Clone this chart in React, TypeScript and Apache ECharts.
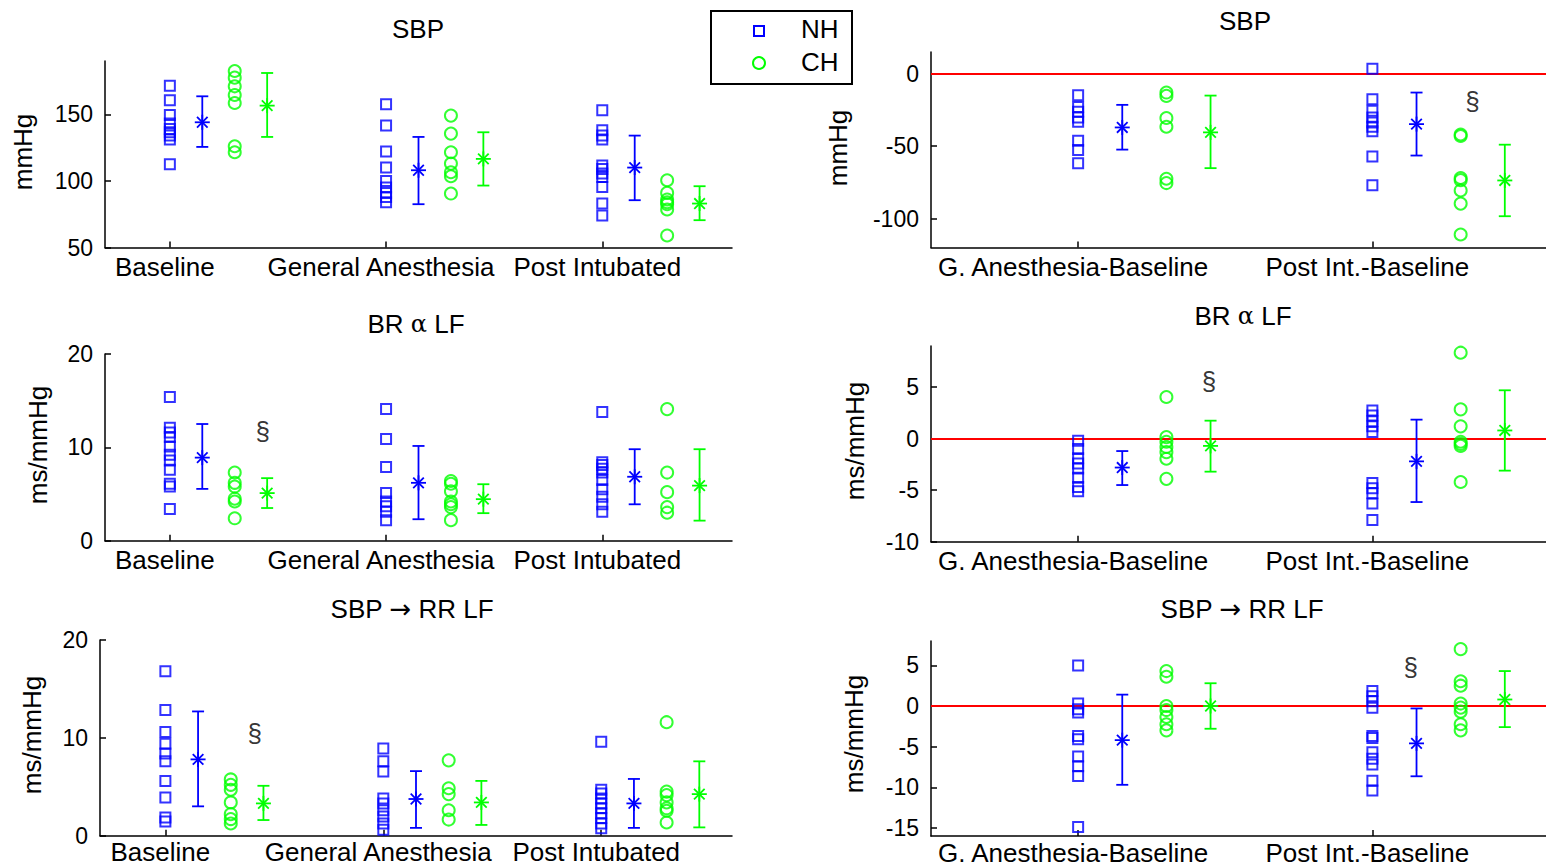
import React, { useEffect, useRef } from 'react';
import * as echarts from 'echarts';

// ---------- categories ----------
const absCats = ['Baseline', 'General Anesthesia', 'Post Intubated'];
const diffCats = ['G. Anesthesia-Baseline', 'Post Int.-Baseline'];

// ---------- SBP (absolute) ----------
const sbpNH = [
  [171.5, 160.5, 149.5, 143, 139, 136.5, 134, 131, 112.5],
  [157.5, 141.5, 122, 110, 100, 95, 91, 88, 84],
  [153, 138, 134, 131, 111.5, 109, 105.5, 103, 95.5, 83, 74],
];
const sbpCH = [
  [182.5, 177.5, 171, 164.5, 158.5, 126, 121.5],
  [149, 135.5, 121.5, 113, 106.5, 103.5, 90.5],
  [100.5, 91, 86, 84, 82.5, 78.5, 59],
];
const sbpNHMean = [144, 108, 110];
const sbpNHLo = [125.5, 82.5, 85.5];
const sbpNHHi = [163.5, 133, 134];
const sbpCHMean = [156.5, 116.5, 83];
const sbpCHLo = [133, 96.5, 70.5];
const sbpCHHi = [181, 136.5, 96];
const sbpSect: number[][] = [];

// ---------- BR alpha LF (absolute) ----------
const brNH = [
  [15.4, 12.1, 11.6, 11.1, 10.1, 9.2, 8.6, 7.6, 6.1, 5.8, 3.4],
  [14.1, 10.9, 7.9, 5.1, 4.2, 3.7, 3.1, 2.2],
  [13.8, 8.4, 8.1, 7.7, 7.3, 6.5, 5.5, 4.7, 3.9, 3.1],
];
const brCH = [
  [7.3, 6.2, 5.8, 4.5, 4.2, 2.4],
  [6.4, 6.1, 5.3, 4.2, 3.9, 3.6, 2.2],
  [14.1, 7.3, 5.2, 3.6, 3.0],
];
const brNHMean = [8.9, 6.2, 6.85];
const brNHLo = [5.55, 2.3, 3.9];
const brNHHi = [12.5, 10.15, 9.8];
const brCHMean = [5.1, 4.45, 5.9];
const brCHLo = [3.5, 2.95, 2.15];
const brCHHi = [6.7, 6.05, 9.8];
const brSect = [[1.43, 11.7]];

// ---------- SBP -> RR LF (absolute) ----------
const rrNH = [
  [16.8, 12.85, 10.6, 9.4, 8.4, 7.6, 5.6, 3.9, 1.85, 1.45],
  [8.9, 7.6, 6.55, 3.8, 3.3, 2.6, 1.95, 1.25, 0.6],
  [9.6, 4.7, 4.3, 3.8, 3.3, 2.8, 2.3, 1.8, 1.25, 0.75],
];
const rrCH = [
  [5.75, 5.2, 4.7, 3.4, 2.2, 1.7, 1.25],
  [7.7, 4.85, 4.25, 2.6, 1.65],
  [11.6, 4.5, 4.15, 3.4, 2.8, 2.55, 1.35],
];
const rrNHMean = [7.8, 3.75, 3.3];
const rrNHLo = [3.0, 0.8, 0.8];
const rrNHHi = [12.7, 6.6, 5.8];
const rrCHMean = [3.3, 3.4, 4.25];
const rrCHLo = [1.6, 1.1, 0.85];
const rrCHHi = [5.1, 5.6, 7.6];
const rrSect = [[1.41, 10.5]];

// ---------- SBP differences ----------
const dSbpNH = [
  [-14.8, -22.9, -26.3, -30.2, -33.2, -46.2, -52.6, -61.8],
  [3.4, -17.6, -25.6, -30.2, -33.6, -36.6, -39.8, -57.2, -77.1],
];
const dSbpCH = [
  [-13, -15.3, -30.6, -36.6, -72.5, -75.5],
  [-42, -43, -72, -73.5, -80.6, -89.7, -111],
];
const dSbpNHMean = [-37.1, -34.8];
const dSbpNHLo = [-52.4, -56.5];
const dSbpNHHi = [-21.5, -13];
const dSbpCHMean = [-40.5, -73.7];
const dSbpCHLo = [-65.2, -98.4];
const dSbpCHHi = [-15.1, -49];
const dSbpSect = [[2.34, -18.75]];

// ---------- BR differences ----------
const dBrNH = [
  [-0.2, -1.0, -1.9, -2.4, -2.9, -3.8, -4.7, -5.1],
  [2.75, 2.25, 1.7, 1.2, 0.65, -4.3, -4.8, -5.3, -6.3, -7.9],
];
const dBrCH = [
  [4.05, 0.15, -0.3, -0.8, -1.3, -1.95, -3.9],
  [8.35, 2.85, 1.2, -0.3, -0.5, -0.7, -4.2],
];
const dBrNHMean = [-2.8, -2.2];
const dBrNHLo = [-4.5, -6.15];
const dBrNHHi = [-1.2, 1.85];
const dBrCHMean = [-0.7, 0.8];
const dBrCHLo = [-3.2, -3.1];
const dBrCHHi = [1.75, 4.7];
const dBrSect = [[1.445, 5.56]];

// ---------- RR differences ----------
const dRrNH = [
  [5.0, 0.3, -0.4, -0.8, -3.7, -4.1, -6.2, -7.4, -8.6, -14.9],
  [1.85, 1.2, 0.6, -0.2, -3.7, -3.95, -5.7, -6.5, -7.2, -9.2, -10.4],
];
const dRrCH = [
  [4.3, 3.6, 0, -0.5, -1.35, -2.25, -3.0],
  [7.0, 3.05, 2.5, 0.3, -0.2, -0.7, -2.25, -3.0],
];
const dRrNHMean = [-4.2, -4.6];
const dRrNHLo = [-9.7, -8.65];
const dRrNHHi = [1.4, -0.3];
const dRrCHMean = [0, 0.8];
const dRrCHLo = [-2.8, -2.6];
const dRrCHHi = [2.8, 4.3];
const dRrSect = [[2.13, 4.77]];

// ---------- tick labels ----------
const sbpTicks = [50, 100, 150];
const brTicks = [0, 10, 20];
const rrTicks = [0, 10, 20];
const dSbpTicks = [-100, -50, 0];
const dBrTicks = [-10, -5, 0, 5];
const dRrTicks = [-15, -10, -5, 0, 5];

const NH_COLOR = '#0000ff';
const CH_COLOR = '#00ff00';
const FONT = '"Liberation Sans", Arial, Helvetica, sans-serif';
const SYM_FONT = '"DejaVu Sans", sans-serif';

interface Panel {
  title: string;
  yName: string;
  cats: string[];
  nh: number[][];
  ch: number[][];
  nhMean: number[];
  nhLo: number[];
  nhHi: number[];
  chMean: number[];
  chLo: number[];
  chHi: number[];
  sect: number[][];
  ticks: number[];
  zero: boolean;
  grid: { left: number; top: number; width: number; height: number };
  xMin: number;
  xMax: number;
  yMin: number;
  yMax: number;
  titlePos: [number, number];
  yNamePos: [number, number];
  labelMargin: number;
}

const panels: Panel[] = [
  {
    title: 'SBP', yName: 'mmHg', cats: absCats, nh: sbpNH, ch: sbpCH,
    nhMean: sbpNHMean, nhLo: sbpNHLo, nhHi: sbpNHHi, chMean: sbpCHMean, chLo: sbpCHLo, chHi: sbpCHHi,
    sect: sbpSect, ticks: sbpTicks, zero: false,
    grid: { left: 105, top: 61, width: 627, height: 186.5 }, xMin: 0.7, xMax: 3.6, yMin: 50, yMax: 190,
    titlePos: [418, 29], yNamePos: [22.5, 152], labelMargin: 6,
  },
  {
    title: 'BR {s|\u03b1} LF', yName: 'ms/mmHg', cats: absCats, nh: brNH, ch: brCH,
    nhMean: brNHMean, nhLo: brNHLo, nhHi: brNHHi, chMean: brCHMean, chLo: brCHLo, chHi: brCHHi,
    sect: brSect, ticks: brTicks, zero: false,
    grid: { left: 105, top: 354, width: 627, height: 186.7 }, xMin: 0.7, xMax: 3.6, yMin: 0, yMax: 20,
    titlePos: [416, 324], yNamePos: [37.5, 445], labelMargin: 6,
  },
  {
    title: 'SBP {a|\u2192} RR LF', yName: 'ms/mmHg', cats: absCats, nh: rrNH, ch: rrCH,
    nhMean: rrNHMean, nhLo: rrNHLo, nhHi: rrNHHi, chMean: rrCHMean, chLo: rrCHLo, chHi: rrCHHi,
    sect: rrSect, ticks: rrTicks, zero: false,
    grid: { left: 100, top: 640, width: 632, height: 195.7 }, xMin: 0.7, xMax: 3.6, yMin: 0, yMax: 20,
    titlePos: [412, 609], yNamePos: [31.5, 735], labelMargin: 3,
  },
  {
    title: 'SBP', yName: 'mmHg', cats: diffCats, nh: dSbpNH, ch: dSbpCH,
    nhMean: dSbpNHMean, nhLo: dSbpNHLo, nhHi: dSbpNHHi, chMean: dSbpCHMean, chLo: dSbpCHLo, chHi: dSbpCHHi,
    sect: dSbpSect, ticks: dSbpTicks, zero: true,
    grid: { left: 931, top: 52, width: 615, height: 195.5 }, xMin: 0.5, xMax: 2.59, yMin: -120, yMax: 15,
    titlePos: [1245, 21], yNamePos: [837.5, 148], labelMargin: 6,
  },
  {
    title: 'BR {s|\u03b1} LF', yName: 'ms/mmHg', cats: diffCats, nh: dBrNH, ch: dBrCH,
    nhMean: dBrNHMean, nhLo: dBrNHLo, nhHi: dBrNHHi, chMean: dBrCHMean, chLo: dBrCHLo, chHi: dBrCHHi,
    sect: dBrSect, ticks: dBrTicks, zero: true,
    grid: { left: 931, top: 346, width: 615, height: 195.7 }, xMin: 0.5, xMax: 2.59, yMin: -10, yMax: 9,
    titlePos: [1243, 316], yNamePos: [854.5, 441], labelMargin: 6,
  },
  {
    title: 'SBP {a|\u2192} RR LF', yName: 'ms/mmHg', cats: diffCats, nh: dRrNH, ch: dRrCH,
    nhMean: dRrNHMean, nhLo: dRrNHLo, nhHi: dRrNHHi, chMean: dRrCHMean, chLo: dRrCHLo, chHi: dRrCHHi,
    sect: dRrSect, ticks: dRrTicks, zero: true,
    grid: { left: 931, top: 641, width: 615, height: 195 }, xMin: 0.5, xMax: 2.59, yMin: -16, yMax: 8,
    titlePos: [1242, 609], yNamePos: [853.5, 734], labelMargin: 4,
  },
];

const OFF_NH_MEAN = 0.15;
const OFF_CH = 0.3;
const OFF_CH_MEAN = 0.45;

const makeRender = (color: string) => (_params: any, api: any) => {
  const x = api.value(0);
  const m = api.value(1);
  const lo = api.value(2);
  const hi = api.value(3);
  const pm = api.coord([x, m]);
  const pl = api.coord([x, lo]);
  const ph = api.coord([x, hi]);
  const cw = 6;
  const r = 7.5;
  const d = 5.3;
  const style = { stroke: color, lineWidth: 1.8, fill: 'none' };
  const ln = (x1: number, y1: number, x2: number, y2: number) => ({
    type: 'line',
    shape: { x1, y1, x2, y2 },
    style,
  });
  return {
    type: 'group',
    children: [
      ln(pl[0], pl[1], ph[0], ph[1]),
      ln(pl[0] - cw, pl[1], pl[0] + cw, pl[1]),
      ln(ph[0] - cw, ph[1], ph[0] + cw, ph[1]),
      ln(pm[0] - r, pm[1], pm[0] + r, pm[1]),
      ln(pm[0], pm[1] - r, pm[0], pm[1] + r),
      ln(pm[0] - d, pm[1] - d, pm[0] + d, pm[1] + d),
      ln(pm[0] - d, pm[1] + d, pm[0] + d, pm[1] - d),
    ],
  };
};

function buildOption() {
  const grid: any[] = [];
  const xAxis: any[] = [];
  const yAxis: any[] = [];
  const series: any[] = [];
  const graphic: any[] = [];

  panels.forEach((p, i) => {
    grid.push({ ...p.grid, containLabel: false });
    const cats = p.cats;
    xAxis.push({
      type: 'value',
      gridIndex: i,
      min: p.xMin,
      max: p.xMax,
      splitLine: { show: false },
      axisLine: { show: true, onZero: false, lineStyle: { color: '#000', width: 1.5 } },
      axisTick: {
        show: true,
        inside: true,
        length: 6,
        customValues: cats.map((_c, k) => k + 1),
        lineStyle: { color: '#000', width: 1.5 },
      },
      axisLabel: {
        show: true,
        customValues: cats.map((_c, k) => k + 1),
        formatter: (v: number) => cats[Math.round(v) - 1] ?? '',
        margin: p.labelMargin,
        color: '#000',
        fontSize: 26,
        fontFamily: FONT,
        padding: [0, 10, 0, 0],
      },
    });
    yAxis.push({
      type: 'value',
      gridIndex: i,
      min: p.yMin,
      max: p.yMax,
      splitLine: { show: false },
      axisLine: { show: true, onZero: false, lineStyle: { color: '#000', width: 1.5 } },
      axisTick: {
        show: true,
        inside: true,
        length: 6,
        customValues: p.ticks,
        lineStyle: { color: '#000', width: 1.5 },
      },
      axisLabel: {
        show: true,
        customValues: p.ticks,
        margin: 12,
        color: '#000',
        fontSize: 23,
        fontFamily: FONT,
      },
    });

    const nhData: number[][] = [];
    p.nh.forEach((vals, c) => vals.forEach((v) => nhData.push([c + 1, v])));
    const chData: number[][] = [];
    p.ch.forEach((vals, c) => vals.forEach((v) => chData.push([c + 1 + OFF_CH, v])));

    series.push({
      type: 'scatter',
      name: 'NH',
      xAxisIndex: i,
      yAxisIndex: i,
      symbol: 'rect',
      symbolSize: 10,
      itemStyle: { color: 'rgba(0,0,0,0)', borderColor: NH_COLOR, borderWidth: 2 },
      data: nhData,
      z: 3,
      markLine: p.zero
        ? {
            silent: true,
            symbol: ['none', 'none'],
            label: { show: false },
            lineStyle: { color: '#ff0000', width: 2, type: 'solid' },
            data: [{ yAxis: 0 }],
            z: 2,
          }
        : undefined,
    });
    series.push({
      type: 'scatter',
      name: 'CH',
      xAxisIndex: i,
      yAxisIndex: i,
      symbol: 'circle',
      symbolSize: 12,
      itemStyle: { color: 'rgba(0,0,0,0)', borderColor: CH_COLOR, borderWidth: 2 },
      data: chData,
      z: 3,
    });
    series.push({
      type: 'custom',
      name: 'NH mean',
      xAxisIndex: i,
      yAxisIndex: i,
      renderItem: makeRender(NH_COLOR),
      encode: { x: 0, y: 1 },
      data: p.nhMean.map((m, c) => [c + 1 + OFF_NH_MEAN, m, p.nhLo[c], p.nhHi[c]]),
      z: 4,
    });
    series.push({
      type: 'custom',
      name: 'CH mean',
      xAxisIndex: i,
      yAxisIndex: i,
      renderItem: makeRender(CH_COLOR),
      encode: { x: 0, y: 1 },
      data: p.chMean.map((m, c) => [c + 1 + OFF_CH_MEAN, m, p.chLo[c], p.chHi[c]]),
      z: 4,
    });
    if (p.sect.length) {
      series.push({
        type: 'scatter',
        name: 'sig',
        xAxisIndex: i,
        yAxisIndex: i,
        symbolSize: 0,
        itemStyle: { color: 'rgba(0,0,0,0)' },
        label: {
          show: true,
          position: 'inside',
          formatter: '\u00a7',
          color: '#000',
          fontSize: 26,
          fontFamily: FONT,
        },
        data: p.sect,
        z: 5,
      });
    }

    graphic.push({
      type: 'text',
      x: p.titlePos[0],
      y: p.titlePos[1],
      style: {
        text: p.title,
        fill: '#000',
        fontSize: 26,
        fontFamily: FONT,
        align: 'center',
        verticalAlign: 'middle',
        textAlign: 'center',
        textVerticalAlign: 'middle',
        rich: {
          a: { fontSize: 26, fontFamily: SYM_FONT, fill: '#000' },
          s: { fontSize: 24, fontFamily: '"DejaVu Serif", serif', fill: '#000' },
        },
      },
    });
    graphic.push({
      type: 'text',
      x: p.yNamePos[0],
      y: p.yNamePos[1],
      rotation: Math.PI / 2,
      style: {
        text: p.yName,
        fill: '#000',
        fontSize: 26,
        fontFamily: FONT,
        align: 'center',
        verticalAlign: 'middle',
        textAlign: 'center',
        textVerticalAlign: 'middle',
      },
    });
  });

  // legend box
  graphic.push({
    type: 'group',
    z: 100,
    children: [
      {
        type: 'rect',
        shape: { x: 711, y: 11, width: 141, height: 73 },
        style: { fill: '#fff', stroke: '#000', lineWidth: 2 },
      },
      {
        type: 'rect',
        shape: { x: 754, y: 26, width: 10, height: 10 },
        style: { fill: 'none', stroke: NH_COLOR, lineWidth: 2 },
      },
      {
        type: 'circle',
        shape: { cx: 759, cy: 63, r: 6 },
        style: { fill: 'none', stroke: CH_COLOR, lineWidth: 2 },
      },
      {
        type: 'text',
        x: 801,
        y: 29,
        style: {
          text: 'NH', fill: '#000', fontSize: 26, fontFamily: FONT,
          align: 'left', verticalAlign: 'middle', textAlign: 'left', textVerticalAlign: 'middle',
        },
      },
      {
        type: 'text',
        x: 801,
        y: 62,
        style: {
          text: 'CH', fill: '#000', fontSize: 26, fontFamily: FONT,
          align: 'left', verticalAlign: 'middle', textAlign: 'left', textVerticalAlign: 'middle',
        },
      },
    ],
  });

  return {
    animation: false,
    backgroundColor: '#fff',
    grid,
    xAxis,
    yAxis,
    series,
    graphic,
  };
}

export default function App() {
  const ref = useRef<HTMLDivElement>(null);
  useEffect(() => {
    if (!ref.current) return;
    const chart = echarts.init(ref.current, undefined, { renderer: 'svg' });
    chart.setOption(buildOption() as any);
    return () => {
      chart.dispose();
    };
  }, []);
  return (
    <div
      ref={ref}
      style={{ position: 'absolute', left: 0, top: 0, width: 1546, height: 867, background: '#fff' }}
    />
  );
}
